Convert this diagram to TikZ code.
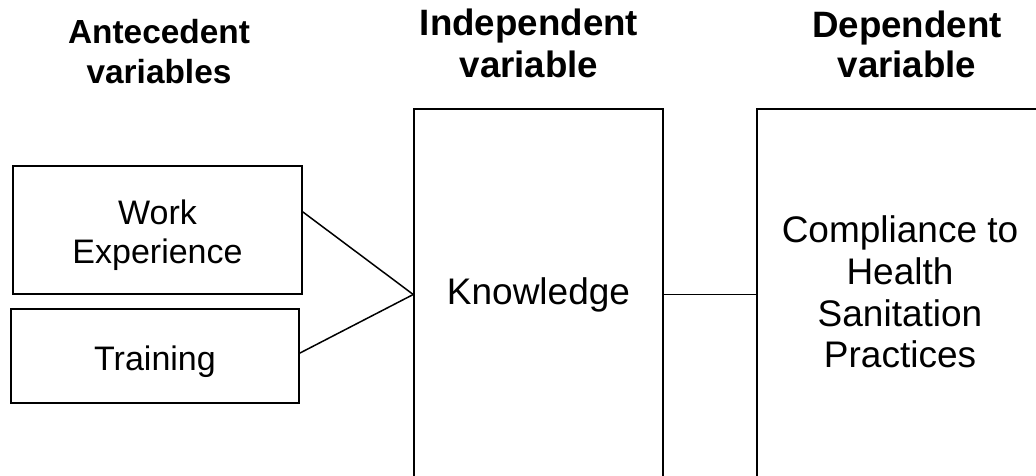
\documentclass[tikz,border=0pt]{standalone}
\usepackage{fontspec}
\setmainfont{Liberation Sans}
\usetikzlibrary{calc}
\tikzset{
  box/.style={draw=black, line width=1.5pt, rectangle, inner sep=0pt},
  txt/.style={inner sep=0pt, align=center},
  hdr/.style={anchor=north, inner sep=0pt, align=center},
  link/.style={draw=black, line width=1.5pt}
}
\begin{document}
\begin{tikzpicture}[x=1pt,y=-1pt]
\useasboundingbox (0,0) rectangle (1036,476);
\clip (0,0) rectangle (1036,476);
% headers
\node[hdr, font=\fontsize{33.4}{40}\selectfont\bfseries] (h1) at (159,19) {Antecedent\\variables};
\node[hdr, font=\fontsize{36.7}{42}\selectfont\bfseries] (h2) at (529,9) {Independent\\variable};
\node[hdr, font=\fontsize{36.7}{40}\selectfont\bfseries] (h3) at (907,11) {Dependent\\variable};
% boxes
\node[box, minimum width=289pt, minimum height=128pt,
  label={[txt, yshift=-5pt, font=\fontsize{34}{39}\selectfont]center:Work\\Experience}] (we) at (157.5,230) {};
\node[box, minimum width=288pt, minimum height=94pt,
  label={[txt, yshift=-6pt, font=\fontsize{34}{39}\selectfont]center:Training}] (tr) at (155,356) {};
\node[box, minimum width=249pt, minimum height=371pt,
  label={[txt, yshift=0pt, font=\fontsize{37}{42}\selectfont]center:Knowledge}] (kn) at (538.5,294.5) {};
\node[box, minimum width=286pt, minimum height=371pt,
  label={[txt, yshift=2.5pt, font=\fontsize{37}{41.8}\selectfont]center:Compliance to\\Health\\Sanitation\\Practices}] (cp) at (900,294.5) {};
% connectors
\draw[link] ($(we.north east)!0.36!(we.south east)$) -- (kn.west);
\draw[link] ($(tr.north east)!0.47!(tr.south east)$) -- (kn.west);
\draw[link] (kn.east) -- (cp.west);
\end{tikzpicture}
\end{document}
